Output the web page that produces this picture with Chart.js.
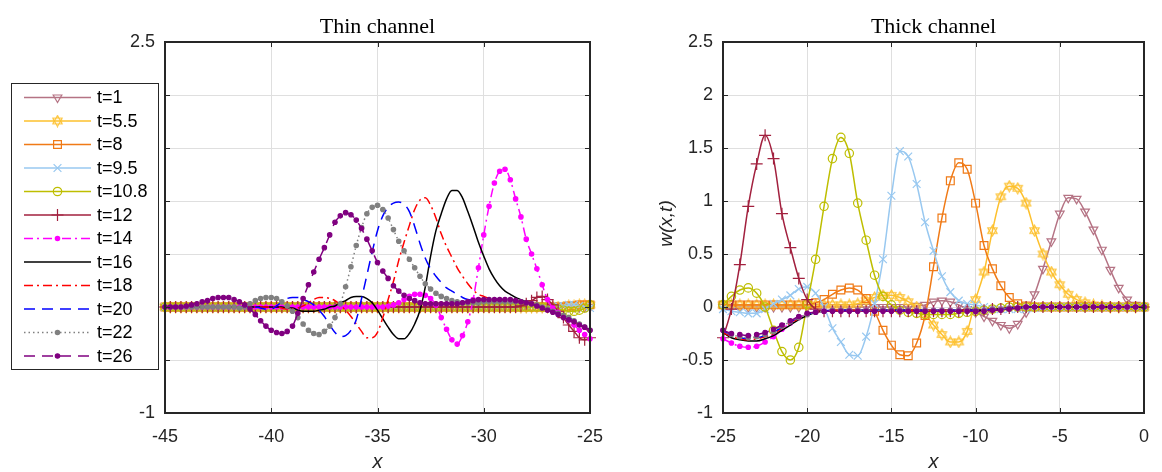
<!DOCTYPE html>
<html>
<head>
<meta charset="utf-8">
<script src="https://cdn.jsdelivr.net/npm/chart.js@4.4.0/dist/chart.umd.min.js"></script>
<style>
  html, body { margin: 0; padding: 0; background: #fff; }
  #wrap { position: relative; width: 1162px; height: 472px; }
  canvas { position: absolute; left: 0; top: 0; }
</style>
</head>
<body>
<div id="wrap">
  <canvas id="thinChart" width="1162" height="472"></canvas>
  <canvas id="thickChart" width="1162" height="472"></canvas>
</div>
<script>
// ---- data ----
const seriesLabels = ['t=1', 't=5.5', 't=8', 't=9.5', 't=10.8', 't=12', 't=14', 't=16', 't=18', 't=20', 't=22', 't=26'];

const yTicks = [-1, -0.5, 0, 0.5, 1, 1.5, 2, 2.5];
const xTicksThin = [-45, -40, -35, -30, -25];
const xTicksThick = [-25, -20, -15, -10, -5, 0];

// thin channel sampled every 0.25, one row = 2 units
const xThin = [-45, -44.75, -44.5, -44.25, -44, -43.75, -43.5, -43.25,
  -43, -42.75, -42.5, -42.25, -42, -41.75, -41.5, -41.25,
  -41, -40.75, -40.5, -40.25, -40, -39.75, -39.5, -39.25,
  -39, -38.75, -38.5, -38.25, -38, -37.75, -37.5, -37.25,
  -37, -36.75, -36.5, -36.25, -36, -35.75, -35.5, -35.25,
  -35, -34.75, -34.5, -34.25, -34, -33.75, -33.5, -33.25,
  -33, -32.75, -32.5, -32.25, -32, -31.75, -31.5, -31.25,
  -31, -30.75, -30.5, -30.25, -30, -29.75, -29.5, -29.25,
  -29, -28.75, -28.5, -28.25, -28, -27.75, -27.5, -27.25,
  -27, -26.75, -26.5, -26.25, -26, -25.75, -25.5, -25.25,
  -25];

// thick channel sampled every 0.5, one row = 5 units
const xThick = [-25, -24.5, -24, -23.5, -23, -22.5, -22, -21.5, -21, -20.5,
  -20, -19.5, -19, -18.5, -18, -17.5, -17, -16.5, -16, -15.5,
  -15, -14.5, -14, -13.5, -13, -12.5, -12, -11.5, -11, -10.5,
  -10, -9.5, -9, -8.5, -8, -7.5, -7, -6.5, -6, -5.5,
  -5, -4.5, -4, -3.5, -3, -2.5, -2, -1.5, -1, -0.5,
  0];

const thin_t1 = [0, 0, 0, 0, 0, 0, 0, 0,
  0, 0, 0, 0, 0, 0, 0, 0,
  0, 0, 0, 0, 0, 0, 0, 0,
  0, 0, 0, 0, 0, 0, 0, 0,
  0, 0, 0, 0, 0, 0, 0, 0,
  0, 0, 0, 0, 0, 0, 0, 0,
  0, 0, 0, 0, 0, 0, 0, 0,
  0, 0, 0, 0, 0, 0, 0, 0,
  0, 0, 0, 0, 0, 0, 0, 0,
  0, 0, 0, 0, 0, 0, 0, 0,
  0];
const thin_t5_5 = [0, 0, 0, 0, 0, 0, 0, 0,
  0, 0, 0, 0, 0, 0, 0, 0,
  0, 0, 0, 0, 0, 0, 0, 0,
  0, 0, 0, 0, 0, 0, 0, 0,
  0, 0, 0, 0, 0, 0, 0, 0,
  0, 0, 0, 0, 0, 0, 0, 0,
  0, 0, 0, 0, 0, 0, 0, 0,
  0, 0, 0, 0, 0, 0, 0, 0,
  0, 0, 0, 0, 0, 0, 0, 0,
  0, 0, 0, 0, 0.01, 0.01, 0.02, 0.02,
  0.02];
const thin_t8 = [0, 0, 0, 0, 0, 0, 0, 0,
  0, 0, 0, 0, 0, 0, 0, 0,
  0, 0, 0, 0, 0, 0, 0, 0,
  0, 0, 0, 0, 0, 0, 0, 0,
  0, 0, 0, 0, 0, 0, 0, 0,
  0, 0, 0, 0, 0, 0, 0, 0,
  0, 0, 0, 0, 0, 0, 0, 0,
  0, 0, 0, 0, 0, 0, 0, 0,
  0, 0, 0, 0, 0, 0, 0, 0,
  0, 0, 0, 0, 0.01, 0.01, 0.02, 0.02,
  0.02];
const thin_t9_5 = [0, 0, 0, 0, 0, 0, 0, 0,
  0, 0, 0, 0, 0, 0, 0, 0,
  0, 0, 0, 0, 0, 0, 0, 0,
  0, 0, 0, 0, 0, 0, 0, 0,
  0, 0, 0, 0, 0, 0, 0, 0,
  0, 0, 0, 0, 0, 0, 0, 0,
  0, 0, 0, 0, 0, 0, 0, 0,
  0, 0, 0, 0, 0, 0, 0, 0,
  0, 0, 0, 0, 0, 0, 0, 0,
  0, 0, 0.01, 0.01, 0.02, 0.02, 0.01, 0,
  -0.01];
const thin_t10_8 = [0, 0, 0, 0, 0, 0, 0, 0,
  0, 0, 0, 0, 0, 0, 0, 0,
  0, 0, 0, 0, 0, 0, 0, 0,
  0, 0, 0, 0, 0, 0, 0, 0,
  0, 0, 0, 0, 0, 0, 0, 0,
  0, 0, 0, 0, 0, 0, 0, 0,
  0, 0, 0, 0, 0, 0, 0, 0,
  0, 0, 0, 0, 0, 0, 0, 0,
  0, 0, 0, 0, 0, 0, 0, 0,
  0, -0.01, -0.02, -0.03, -0.04, -0.04, -0.03, -0.01,
  0.02];
const thin_t12 = [0, 0, 0, 0, 0, 0, 0, 0,
  0, 0, 0, 0, 0, 0, 0, 0,
  0, 0, 0, 0, 0, 0, 0, 0,
  0, 0, 0, 0, 0, 0, 0, 0,
  0, 0, 0, 0, 0, 0, 0, 0,
  0, 0, 0, 0, 0, 0, 0, 0,
  0, 0, 0, 0, 0, 0, 0, 0,
  0, 0, 0, 0, 0, 0, 0, 0,
  0, 0, 0, 0.01, 0.03, 0.06, 0.09, 0.10,
  0.07, 0.02, -0.04, -0.10, -0.17, -0.23, -0.29, -0.31,
  -0.29];
const thin_t14 = [0, 0, 0, 0, 0, 0, 0, 0,
  0, 0, 0, 0, 0, 0, 0, 0,
  0, 0, 0, 0, 0, 0, 0, 0,
  0, 0, 0, 0, 0, 0, 0, 0,
  0, 0, 0, 0, 0, 0, 0, 0,
  0, 0, 0.01, 0.02, 0.04, 0.07, 0.10, 0.12,
  0.12, 0.11, 0.08, 0.02, -0.10, -0.21, -0.31, -0.35,
  -0.27, -0.14, 0.07, 0.37, 0.68, 0.95, 1.17, 1.28,
  1.30, 1.20, 1.02, 0.85, 0.64, 0.50, 0.36, 0.21,
  0.07, -0.01, -0.05, -0.09, -0.12, -0.17, -0.22, -0.26,
  -0.30];
const thin_t16 = [0, 0, 0, 0, 0, 0, 0, 0,
  0, 0, 0, 0, 0, 0, 0, 0,
  0, 0, 0, 0, 0, 0, 0, -0.01,
  -0.01, -0.03, -0.04, -0.04, -0.04, -0.03, -0.02, 0.00,
  0.01, 0.04, 0.06, 0.09, 0.10, 0.10, 0.08, 0.04,
  -0.03, -0.11, -0.19, -0.26, -0.30, -0.30, -0.25, -0.16,
  -0.03, 0.19, 0.48, 0.72, 0.88, 1.02, 1.10, 1.10,
  1.03, 0.90, 0.76, 0.61, 0.48, 0.36, 0.27, 0.20,
  0.15, 0.12, 0.09, 0.07, 0.05, 0.03, 0.01, -0.01,
  -0.03, -0.05, -0.07, -0.09, -0.12, -0.14, -0.17, -0.20,
  -0.23];
const thin_t18 = [0, 0, 0, 0, 0, 0, 0, 0,
  0, 0, 0, 0, 0, 0, 0, 0,
  0, 0, 0, 0, 0, 0, -0.01, -0.02,
  -0.02, -0.01, 0.01, 0.04, 0.07, 0.09, 0.09, 0.08,
  0.06, 0.02, -0.03, -0.09, -0.16, -0.23, -0.29, -0.29,
  -0.24, -0.10, 0.07, 0.24, 0.44, 0.61, 0.77, 0.92,
  1.01, 1.03, 0.96, 0.84, 0.69, 0.57, 0.47, 0.37,
  0.29, 0.22, 0.16, 0.12, 0.10, 0.08, 0.07, 0.06,
  0.06, 0.05, 0.05, 0.05, 0.04, 0.03, 0.02, 0.00,
  -0.02, -0.04, -0.06, -0.08, -0.11, -0.14, -0.17, -0.20,
  -0.23];
const thin_t20 = [0, 0, 0, 0, 0, 0, 0, 0,
  0, 0, 0, 0, 0, 0, 0, 0,
  0, 0, -0.01, -0.02, -0.02, 0.01, 0.05, 0.08,
  0.09, 0.09, 0.07, 0.05, 0.02, -0.03, -0.09, -0.17,
  -0.24, -0.28, -0.27, -0.22, -0.12, 0.08, 0.30, 0.52,
  0.72, 0.86, 0.94, 0.98, 0.99, 0.97, 0.90, 0.76,
  0.60, 0.46, 0.36, 0.29, 0.23, 0.18, 0.15, 0.12,
  0.09, 0.07, 0.06, 0.05, 0.05, 0.05, 0.05, 0.05,
  0.05, 0.05, 0.05, 0.05, 0.04, 0.03, 0.02, 0.00,
  -0.02, -0.04, -0.06, -0.08, -0.10, -0.13, -0.16, -0.19,
  -0.22];
const thin_t22 = [0, 0, 0, 0, 0, 0, 0, 0,
  0, 0, 0, 0, 0, 0, -0.01, 0.00,
  0.03, 0.06, 0.08, 0.09, 0.09, 0.08, 0.05, 0.01,
  -0.04, -0.10, -0.16, -0.22, -0.25, -0.26, -0.23, -0.18,
  -0.10, 0.03, 0.19, 0.38, 0.58, 0.75, 0.88, 0.94,
  0.96, 0.92, 0.84, 0.73, 0.62, 0.53, 0.45, 0.37,
  0.29, 0.22, 0.17, 0.13, 0.10, 0.08, 0.06, 0.05,
  0.04, 0.04, 0.04, 0.04, 0.05, 0.05, 0.05, 0.05,
  0.05, 0.05, 0.05, 0.05, 0.04, 0.03, 0.02, 0.00,
  -0.02, -0.04, -0.06, -0.08, -0.10, -0.13, -0.16, -0.19,
  -0.22];
const thin_t26 = [0, 0, 0, 0, 0.01, 0.02, 0.03, 0.05,
  0.06, 0.08, 0.09, 0.09, 0.09, 0.07, 0.05, 0.02,
  -0.02, -0.07, -0.13, -0.18, -0.22, -0.24, -0.25, -0.23,
  -0.18, -0.06, 0.08, 0.21, 0.33, 0.45, 0.56, 0.68,
  0.80, 0.86, 0.89, 0.87, 0.82, 0.74, 0.64, 0.53,
  0.42, 0.34, 0.27, 0.20, 0.15, 0.11, 0.08, 0.06,
  0.04, 0.03, 0.03, 0.03, 0.03, 0.03, 0.03, 0.03,
  0.04, 0.05, 0.06, 0.07, 0.07, 0.07, 0.07, 0.07,
  0.07, 0.07, 0.06, 0.05, 0.04, 0.03, 0.01, -0.01,
  -0.03, -0.05, -0.07, -0.10, -0.12, -0.14, -0.17, -0.19,
  -0.22];

const thick_t1 = [0, 0, 0, 0, 0, 0, 0, 0, 0, 0,
  0, 0, 0, 0, 0, 0, 0, 0, 0, 0,
  0, 0, 0, 0.01, 0.02, 0.05, 0.06, 0.05, 0.02, -0.02,
  -0.05, -0.09, -0.13, -0.17, -0.20, -0.16, -0.05, 0.12, 0.36, 0.62,
  0.88, 1.03, 1.02, 0.90, 0.73, 0.54, 0.35, 0.18, 0.07, 0.02,
  0];
const thick_t5_5 = [0.02, 0.02, 0.02, 0.02, 0.02, 0.02, 0.02, 0.02, 0.02, 0.02,
  0.02, 0.02, 0.02, 0.02, 0.02, 0.02, 0.03, 0.06, 0.09, 0.11,
  0.11, 0.09, 0.05, 0.00, -0.07, -0.17, -0.26, -0.33, -0.33, -0.23,
  0.07, 0.33, 0.72, 1.04, 1.14, 1.12, 0.98, 0.72, 0.50, 0.33,
  0.21, 0.12, 0.07, 0.04, 0.02, 0.01, 0, 0, 0, 0,
  0];
const thick_t8 = [0.02, 0.02, 0.02, 0.02, 0.02, 0.02, 0.02, 0.02, 0.02, 0.02,
  0.02, 0.04, 0.07, 0.12, 0.16, 0.18, 0.16, 0.08, -0.04, -0.22,
  -0.36, -0.45, -0.46, -0.34, -0.08, 0.38, 0.84, 1.19, 1.36, 1.30,
  0.98, 0.58, 0.36, 0.20, 0.09, 0.03, 0.01, 0, 0, 0,
  0, 0, 0, 0, 0, 0, 0, 0, 0, 0,
  0];
const thick_t9_5 = [-0.02, -0.04, -0.05, -0.06, -0.06, -0.02, 0.03, 0.07, 0.11, 0.17,
  0.19, 0.13, 0.00, -0.20, -0.33, -0.45, -0.46, -0.28, 0.03, 0.45,
  1.05, 1.47, 1.42, 1.16, 0.80, 0.53, 0.29, 0.14, 0.06, 0.03,
  0.02, 0, -0.02, -0.02, -0.02, -0.02, -0.02, -0.01, 0, 0,
  0, 0, 0, 0, 0, 0, 0, 0, 0, 0,
  0];
const thick_t10_8 = [0.02, 0.10, 0.16, 0.18, 0.13, 0.00, -0.22, -0.42, -0.50, -0.38,
  0.03, 0.45, 0.95, 1.40, 1.60, 1.45, 0.98, 0.63, 0.30, 0.10,
  0.02, -0.03, -0.05, -0.06, -0.07, -0.07, -0.07, -0.07, -0.06, -0.05,
  -0.04, -0.03, -0.02, -0.01, 0, 0, 0, 0, 0, 0,
  0, 0, 0, 0, 0, 0, 0, 0, 0, 0,
  0];
const thick_t12 = [-0.29, -0.02, 0.40, 0.95, 1.35, 1.62, 1.40, 0.88, 0.56, 0.27,
  0.07, -0.02, -0.04, -0.04, -0.04, -0.04, -0.04, -0.04, -0.04, -0.04,
  -0.04, -0.04, -0.04, -0.04, -0.04, -0.04, -0.04, -0.04, -0.04, -0.03,
  -0.03, -0.03, -0.02, -0.02, -0.01, 0, 0, 0, 0, 0,
  0, 0, 0, 0, 0, 0, 0, 0, 0, 0,
  0];
const thick_t14 = [-0.30, -0.34, -0.37, -0.38, -0.37, -0.33, -0.28, -0.21, -0.15, -0.10,
  -0.07, -0.05, -0.04, -0.03, -0.03, -0.03, -0.03, -0.03, -0.03, -0.03,
  -0.03, -0.03, -0.03, -0.03, -0.03, -0.03, -0.03, -0.03, -0.03, -0.03,
  -0.03, -0.03, -0.02, -0.02, -0.01, -0.01, 0, 0, 0, 0,
  0, 0, 0, 0, 0, 0, 0, 0, 0, 0,
  0];
const thick_t16 = [-0.24, -0.29, -0.31, -0.32, -0.32, -0.30, -0.27, -0.22, -0.17, -0.12,
  -0.08, -0.05, -0.04, -0.03, -0.03, -0.03, -0.03, -0.03, -0.03, -0.03,
  -0.03, -0.03, -0.03, -0.03, -0.03, -0.03, -0.03, -0.03, -0.03, -0.03,
  -0.03, -0.03, -0.02, -0.02, -0.01, -0.01, 0, 0, 0, 0,
  0, 0, 0, 0, 0, 0, 0, 0, 0, 0,
  0];
const thick_t18 = [-0.24, -0.28, -0.30, -0.31, -0.30, -0.28, -0.25, -0.20, -0.15, -0.11,
  -0.07, -0.05, -0.04, -0.03, -0.03, -0.03, -0.03, -0.03, -0.03, -0.03,
  -0.03, -0.03, -0.03, -0.03, -0.03, -0.03, -0.03, -0.03, -0.03, -0.03,
  -0.03, -0.03, -0.02, -0.02, -0.01, -0.01, 0, 0, 0, 0,
  0, 0, 0, 0, 0, 0, 0, 0, 0, 0,
  0];
const thick_t20 = [-0.22, -0.27, -0.29, -0.30, -0.29, -0.27, -0.24, -0.19, -0.14, -0.10,
  -0.07, -0.05, -0.04, -0.03, -0.03, -0.03, -0.03, -0.03, -0.03, -0.03,
  -0.03, -0.03, -0.03, -0.03, -0.03, -0.03, -0.03, -0.03, -0.03, -0.03,
  -0.03, -0.03, -0.02, -0.02, -0.01, -0.01, 0, 0, 0, 0,
  0, 0, 0, 0, 0, 0, 0, 0, 0, 0,
  0];
const thick_t22 = [-0.22, -0.26, -0.28, -0.29, -0.28, -0.26, -0.23, -0.18, -0.14, -0.10,
  -0.07, -0.05, -0.04, -0.03, -0.03, -0.03, -0.03, -0.03, -0.03, -0.03,
  -0.03, -0.03, -0.03, -0.03, -0.03, -0.03, -0.03, -0.03, -0.03, -0.03,
  -0.03, -0.03, -0.02, -0.02, -0.01, -0.01, 0, 0, 0, 0,
  0, 0, 0, 0, 0, 0, 0, 0, 0, 0,
  0];
const thick_t26 = [-0.22, -0.25, -0.26, -0.27, -0.26, -0.24, -0.21, -0.17, -0.13, -0.09,
  -0.06, -0.05, -0.04, -0.04, -0.04, -0.04, -0.04, -0.04, -0.04, -0.04,
  -0.04, -0.04, -0.04, -0.04, -0.04, -0.04, -0.04, -0.04, -0.04, -0.04,
  -0.04, -0.04, -0.03, -0.03, -0.02, -0.01, 0, 0, 0, 0,
  0, 0, 0, 0, 0, 0, 0, 0, 0, 0,
  0];

const thinSeries = [thin_t1, thin_t5_5, thin_t8, thin_t9_5, thin_t10_8, thin_t12,
  thin_t14, thin_t16, thin_t18, thin_t20, thin_t22, thin_t26];
const thickSeries = [thick_t1, thick_t5_5, thick_t8, thick_t9_5, thick_t10_8, thick_t12,
  thick_t14, thick_t16, thick_t18, thick_t20, thick_t22, thick_t26];

// six-pointed star marker (two triangles), drawn once on a small canvas
function hexagram(color) {
  const c = document.createElement('canvas');
  c.width = 13; c.height = 13;
  const g = c.getContext('2d');
  g.strokeStyle = color;
  g.lineWidth = 1.1;
  [-90, 90].forEach(start => {
    g.beginPath();
    for (let k = 0; k < 3; k++) {
      const ang = (start + k * 120) * Math.PI / 180;
      const px = 6.5 + 5.4 * Math.cos(ang), py = 6.5 + 5.4 * Math.sin(ang);
      if (k === 0) g.moveTo(px, py); else g.lineTo(px, py);
    }
    g.closePath();
    g.stroke();
  });
  return c;
}

// ---- line / marker styles ----
const seriesStyles = [
  { color: 'rgb(181,115,132)', marker: 'triangle', rotation: 180, radius: 5, fill: false, width: 1.5 },
  { color: 'rgb(253,192,45)', marker: hexagram('rgb(253,192,45)'), radius: 6, fill: false, width: 1.5 },
  { color: 'rgb(240,122,22)', marker: 'rect', radius: 5.5, fill: false, width: 1.5 },
  { color: 'rgb(152,200,240)', marker: 'crossRot', radius: 5.5, fill: false, width: 1.5 },
  { color: 'rgb(190,190,0)', marker: 'circle', radius: 4.2, fill: false, width: 1.5 },
  { color: 'rgb(162,32,62)', marker: 'cross', radius: 6, fill: false, width: 1.5 },
  { color: '#ff00ff', marker: 'circle', radius: 2.2, fill: true, width: 1.5, dash: [9, 4, 2, 4] },
  { color: '#000000', marker: null, width: 1.5 },
  { color: '#ff0000', marker: null, width: 1.5, dash: [9, 4, 2, 4] },
  { color: '#0000ff', marker: null, width: 1.5, dash: [11, 7] },
  { color: '#808080', marker: 'circle', radius: 2.2, fill: true, width: 1.5, dash: [1.5, 3] },
  { color: '#800080', marker: 'circle', radius: 2.2, fill: true, width: 1.5, dash: [11, 7] }
];

const FONT = '"Liberation Sans", Arial, Helvetica, sans-serif';
const SERIF = '"Liberation Serif", "Times New Roman", Times, serif';

function makeDatasets(xs, series) {
  return seriesStyles.map((s, i) => ({
    label: seriesLabels[i],
    data: xs.map((x, k) => ({ x: x, y: series[i][k] })),
    borderColor: s.color,
    backgroundColor: s.color,
    borderWidth: s.width,
    borderDash: s.dash || [],
    pointStyle: s.marker || 'circle',
    pointRadius: s.marker ? s.radius : 0,
    pointRotation: s.rotation || 0,
    pointBorderColor: s.color,
    pointBackgroundColor: s.fill ? s.color : 'rgba(0,0,0,0)',
    pointBorderWidth: 1.2,
    cubicInterpolationMode: 'monotone',
    clip: false,
    order: 20 - i
  }));
}

function drawLegend(ctx) {
  const bx = 11, by = 83, bw = 147, bh = 286;
  ctx.fillStyle = '#fff';
  ctx.fillRect(bx, by, bw, bh);
  ctx.strokeStyle = '#262626';
  ctx.lineWidth = 1;
  ctx.strokeRect(bx + 0.5, by + 0.5, bw, bh);
  seriesStyles.forEach((s, i) => {
    const y = 97.5 + i * 23.5;
    ctx.save();
    ctx.strokeStyle = s.color;
    ctx.lineWidth = s.width;
    ctx.setLineDash(s.dash || []);
    ctx.beginPath();
    ctx.moveTo(24, y);
    ctx.lineTo(91, y);
    ctx.stroke();
    ctx.setLineDash([]);
    if (s.marker) {
      ctx.fillStyle = s.fill ? s.color : 'rgba(0,0,0,0)';
      ctx.lineWidth = 1.2;
      Chart.helpers.drawPoint(ctx, { pointStyle: s.marker, radius: s.radius, rotation: s.rotation || 0, borderWidth: 1.2 }, 57.5, y);
    }
    ctx.fillStyle = '#000';
    ctx.font = '18px ' + FONT;
    ctx.textAlign = 'left';
    ctx.textBaseline = 'middle';
    ctx.fillText(seriesLabels[i], 97, y + 1);
    ctx.restore();
  });
}

// box, inward ticks, titles and labels drawn on top of the data
const axesBox = {
  id: 'axesBox',
  afterDraw(chart, args, opts) {
    const { ctx, chartArea: a, scales } = chart;
    ctx.save();
    ctx.strokeStyle = '#262626';
    ctx.lineWidth = 1;
    ctx.beginPath();
    opts.xTicks.forEach(v => {
      const px = Math.round(scales.x.getPixelForValue(v)) + 0.5;
      ctx.moveTo(px, a.bottom); ctx.lineTo(px, a.bottom - 5);
      ctx.moveTo(px, a.top); ctx.lineTo(px, a.top + 5);
    });
    yTicks.forEach(v => {
      const py = Math.round(scales.y.getPixelForValue(v)) + 0.5;
      ctx.moveTo(a.left, py); ctx.lineTo(a.left + 5, py);
      ctx.moveTo(a.right, py); ctx.lineTo(a.right - 5, py);
    });
    ctx.stroke();
    ctx.lineWidth = 2;
    ctx.strokeRect(a.left, a.top, a.right - a.left, a.bottom - a.top);

    const cx = (a.left + a.right) / 2;
    ctx.fillStyle = '#000';
    ctx.textAlign = 'center';
    ctx.textBaseline = 'alphabetic';
    ctx.font = '22px ' + SERIF;
    ctx.fillText(opts.title, cx, 33);

    ctx.fillStyle = '#262626';
    ctx.font = 'italic 20px ' + FONT;
    ctx.fillText('x', cx, 468);

    if (opts.ylabel) {
      ctx.save();
      ctx.translate(672, (a.top + a.bottom) / 2 - 4);
      ctx.rotate(-Math.PI / 2);
      ctx.font = 'italic 19px ' + FONT;
      ctx.fillText(opts.ylabel, 0, 0);
      ctx.restore();
    }
    if (opts.legend) drawLegend(ctx);
    ctx.restore();
  }
};

function makeChart(id, xs, series, xMin, xMax, xTicks, left, right, title, ylabel, legend) {
  return new Chart(document.getElementById(id), {
    type: 'line',
    data: { datasets: makeDatasets(xs, series) },
    options: {
      responsive: false,
      animation: false,
      devicePixelRatio: 1,
      layout: { padding: { left: 0, right: right, top: 42, bottom: 0 } },
      plugins: {
        legend: { display: false },
        tooltip: { enabled: false },
        axesBox: { xTicks: xTicks, title: title, ylabel: ylabel, legend: legend }
      },
      scales: {
        x: {
          type: 'linear', min: xMin, max: xMax,
          afterBuildTicks: s => { s.ticks = xTicks.map(v => ({ value: v })); },
          afterFit: s => { s.height = 59; },
          ticks: { autoSkip: false, maxRotation: 0, padding: 13, color: '#262626',
            font: { size: 18, family: FONT }, callback: v => String(v) },
          grid: { color: '#dfdfdf', lineWidth: 1, drawTicks: false },
          border: { display: false }
        },
        y: {
          min: -1, max: 2.5,
          afterBuildTicks: s => { s.ticks = yTicks.map(v => ({ value: v })); },
          afterFit: s => { s.width = left; },
          ticks: { autoSkip: false, padding: 10, color: '#262626',
            font: { size: 18, family: FONT }, callback: v => String(v) },
          grid: { color: '#dfdfdf', lineWidth: 1, drawTicks: false },
          border: { display: false }
        }
      }
    },
    plugins: [axesBox]
  });
}

makeChart('thinChart', xThin, thinSeries, -45, -25, xTicksThin, 165, 1162 - 590, 'Thin channel', null, true);
makeChart('thickChart', xThick, thickSeries, -25, 0, xTicksThick, 723, 1162 - 1148, 'Thick channel', 'w(x,t)', false);
</script>
</body>
</html>
